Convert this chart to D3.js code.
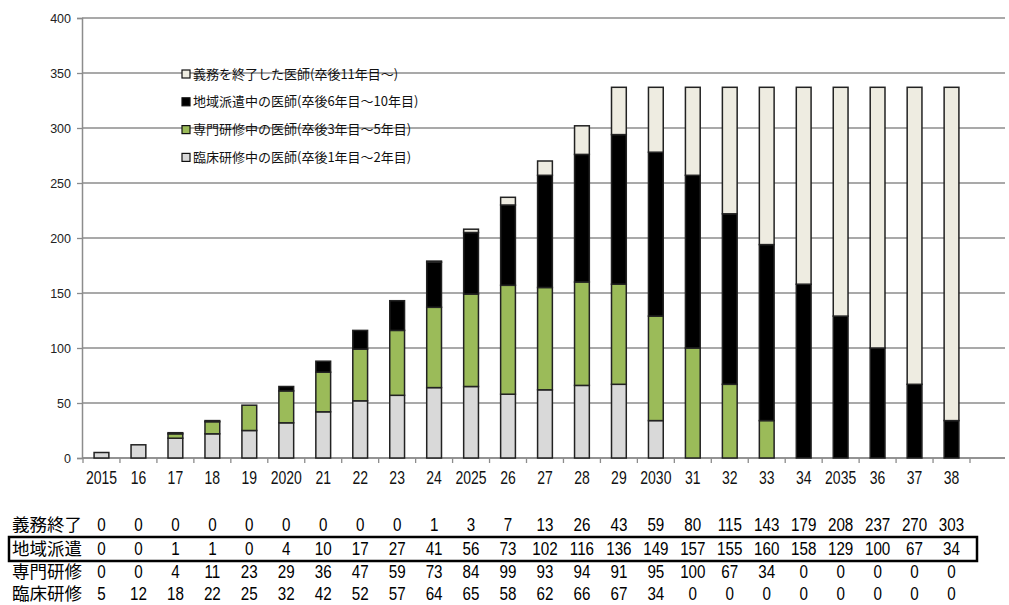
<!DOCTYPE html>
<html>
<head>
<meta charset="utf-8">
<script src="https://cdn.jsdelivr.net/npm/d3@7"></script>
<style>
  body { margin: 0; background: #fff; }
  svg { display: block; }
</style>
</head>
<body>
<div id="chart"></div>
<script>
// values
var years  = ["2015","16","17","18","19","2020","21","22","23","24","2025","26","27","28","29","2030","31","32","33","34","2035","36","37","38"];
var rinsho = [5,12,18,22,25,32,42,52,57,64,65,58,62,66,67,34,0,0,0,0,0,0,0,0];
var senmon = [0,0,4,11,23,29,36,47,59,73,84,99,93,94,91,95,100,67,34,0,0,0,0,0];
var chiiki = [0,0,1,1,0,4,10,17,27,41,56,73,102,116,136,149,157,155,160,158,129,100,67,34];
var gimu   = [0,0,0,0,0,0,0,0,0,1,3,7,13,26,43,59,80,115,143,179,208,237,270,303];

var seriesKeys   = ["rinsho","senmon","chiiki","gimu"];
var seriesColors = {rinsho:"#d9d9d9", senmon:"#9bbb59", chiiki:"#000000", gimu:"#eeece1"};
var legendNames  = {
  gimu:   "義務を終了した医師(卒後11年目～)",
  chiiki: "地域派遣中の医師(卒後6年目～10年目)",
  senmon: "専門研修中の医師(卒後3年目～5年目)",
  rinsho: "臨床研修中の医師(卒後1年目～2年目)"
};
var tableRows = [
  {label:"義務終了", vals:gimu},
  {label:"地域派遣", vals:chiiki},
  {label:"専門研修", vals:senmon},
  {label:"臨床研修", vals:rinsho}
];
var yTicks = [0,50,100,150,200,250,300,350,400];

var W = 1009, H = 605;
var mLeft = 82, mRight = 970, mTop = 18, mBottom = 458, gridEnd = 1005;

var sans = "'Liberation Sans',Arial,sans-serif";
var jp = "'Noto Sans CJK JP','Noto Sans CJK SC',sans-serif";
var squeeze = 0.8;   // narrow look of the original digits

var svg = d3.select("#chart").append("svg")
    .attr("width", W)
    .attr("height", H);

var x = d3.scaleBand()
    .domain(years)
    .range([mLeft + 1, mRight])
    .paddingInner(0.6)
    .paddingOuter(0.3);

var y = d3.scaleLinear()
    .domain([0, 400])
    .range([mBottom, mTop]);

// grid lines
svg.append("g")
    .selectAll("line")
    .data(yTicks)
    .enter().append("line")
    .attr("x1", mLeft)
    .attr("x2", gridEnd)
    .attr("y1", function(d) { return y(d); })
    .attr("y2", function(d) { return y(d); })
    .attr("stroke", "#8c8c8c")
    .attr("stroke-width", 1.3);

// y axis
var yAxis = svg.append("g")
    .attr("transform", "translate(" + mLeft + ",0)")
    .call(d3.axisLeft(y).tickValues(yTicks).tickSize(5).tickPadding(6));
yAxis.select(".domain").attr("stroke", "#8c8c8c").attr("stroke-width", 1.5);
yAxis.selectAll(".tick line").attr("stroke", "#8c8c8c").attr("stroke-width", 1.3);
yAxis.selectAll("text")
    .attr("font-family", sans)
    .attr("font-size", 12.5)
    .attr("fill", "#222");

// x axis (tick marks between categories)
var band = x.step();
var x0 = x(years[0]) - (band - x.bandwidth()) / 2;
var xAxisG = svg.append("g");
xAxisG.append("line")
    .attr("x1", mLeft).attr("x2", gridEnd)
    .attr("y1", mBottom).attr("y2", mBottom)
    .attr("stroke", "#8c8c8c").attr("stroke-width", 1.5);
xAxisG.selectAll("line.tk")
    .data(d3.range(years.length + 1))
    .enter().append("line")
    .attr("class", "tk")
    .attr("x1", function(i) { return x0 + i * band; })
    .attr("x2", function(i) { return x0 + i * band; })
    .attr("y1", mBottom).attr("y2", mBottom + 5)
    .attr("stroke", "#8c8c8c").attr("stroke-width", 1.3);
xAxisG.selectAll("text")
    .data(years)
    .enter().append("text")
    .attr("transform", function(d) {
      return "translate(" + (x(d) + x.bandwidth() / 2) + ",484) scale(" + squeeze + ",1)";
    })
    .attr("text-anchor", "middle")
    .attr("font-family", sans)
    .attr("font-size", 17.5)
    .attr("fill", "#111")
    .text(function(d) { return d; });

// stacked bars
var table = years.map(function(yr, i) {
  return {year: yr, rinsho: rinsho[i], senmon: senmon[i], chiiki: chiiki[i], gimu: gimu[i]};
});
var stacked = d3.stack().keys(seriesKeys)(table);

svg.append("g")
    .selectAll("g")
    .data(stacked)
    .enter().append("g")
    .attr("fill", function(s) { return seriesColors[s.key]; })
    .selectAll("rect")
    .data(function(s) { return s.filter(function(d) { return d[1] - d[0] > 0; }); })
    .enter().append("rect")
    .attr("x", function(d) { return x(d.data.year); })
    .attr("width", x.bandwidth())
    .attr("y", function(d) { return y(d[1]); })
    .attr("height", function(d) { return y(d[0]) - y(d[1]); })
    .attr("stroke", "#222")
    .attr("stroke-width", 1.5);

// legend (no background, grid shows through)
var legendOrder = ["gimu","chiiki","senmon","rinsho"];
var legend = svg.append("g")
    .selectAll("g")
    .data(legendOrder)
    .enter().append("g")
    .attr("transform", function(d, i) { return "translate(182," + (74 + i * 27.8) + ")"; });
legend.append("rect")
    .attr("x", 0).attr("y", -4)
    .attr("width", 8).attr("height", 8)
    .attr("fill", function(d) { return seriesColors[d]; })
    .attr("stroke", "#111").attr("stroke-width", 1.2);
legend.append("text")
    .attr("x", 11).attr("y", 0)
    .attr("dy", "0.36em")
    .attr("font-family", jp)
    .attr("font-size", 13)
    .attr("fill", "#111")
    .text(function(d) { return legendNames[d]; });

// data table under the chart
var rowY = [531, 555, 578, 600];
var tbl = svg.append("g");
tableRows.forEach(function(row, r) {
  tbl.append("text")
      .attr("x", 12).attr("y", rowY[r])
      .attr("font-family", jp)
      .attr("font-size", 17.5)
      .attr("fill", "#000")
      .text(row.label);
  tbl.selectAll("text.v" + r)
      .data(row.vals)
      .enter().append("text")
      .attr("class", "v" + r)
      .attr("transform", function(d, i) {
        return "translate(" + (x(years[i]) + x.bandwidth() / 2) + "," + rowY[r] + ") scale(" + squeeze + ",1)";
      })
      .attr("text-anchor", "middle")
      .attr("font-family", sans)
      .attr("font-size", 19)
      .attr("fill", "#000")
      .text(function(d) { return d; });
});

// box around 地域派遣 row
tbl.append("rect")
    .attr("x", 9).attr("y", 537)
    .attr("width", 968).attr("height", 24)
    .attr("fill", "none")
    .attr("stroke", "#000")
    .attr("stroke-width", 2.5);
</script>
</body>
</html>
